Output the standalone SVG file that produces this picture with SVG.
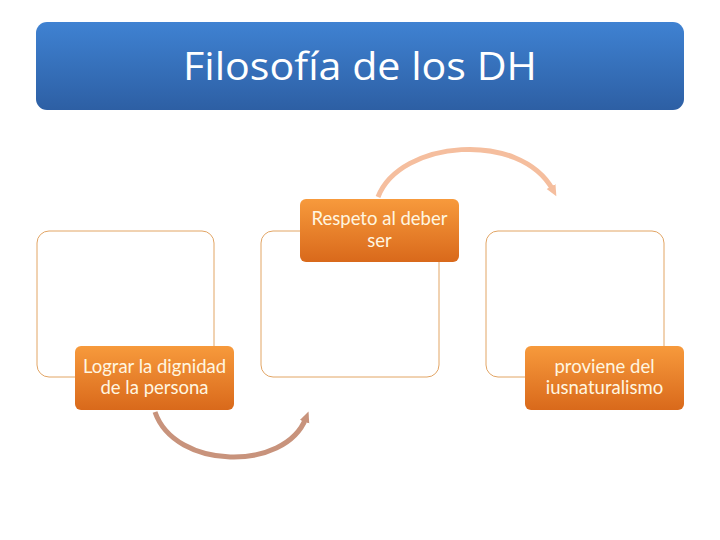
<svg xmlns="http://www.w3.org/2000/svg" width="720" height="540" viewBox="0 0 720 540">
<defs>
<linearGradient id="blue" x1="0" y1="0" x2="0" y2="1">
<stop offset="0" stop-color="#3F82D2"/>
<stop offset="1" stop-color="#2D5FA4"/>
</linearGradient>
<linearGradient id="orange" x1="0" y1="0" x2="0" y2="1">
<stop offset="0" stop-color="#F79A3C"/>
<stop offset="1" stop-color="#D9691B"/>
</linearGradient>
<marker id="ahTop" markerUnits="userSpaceOnUse" markerWidth="14" markerHeight="14" refX="4" refY="7" orient="auto">
<path d="M0,2 L11,7 L0,12 Z" fill="#F5BE9E"/>
</marker>
<marker id="ahBot" markerUnits="userSpaceOnUse" markerWidth="14" markerHeight="14" refX="4" refY="7" orient="auto">
<path d="M0,2 L11,7 L0,12 Z" fill="#C8937C"/>
</marker>
<style>
.outline{fill:#FFFFFF;stroke:#E2A565;stroke-width:1}
.ob{fill:url(#orange)}
.lbl{font-family:Lato,"Liberation Sans",sans-serif;font-size:18.5px;fill:#FFF6E0;text-anchor:middle}
.title{font-family:"Open Sans","Liberation Sans",sans-serif;font-size:38px;fill:#FFFFFF;text-anchor:middle}
</style>
</defs>
<rect width="720" height="540" fill="#FFFFFF"/>
<g id="title">
<rect x="36" y="22" width="648" height="88" rx="11" fill="url(#blue)"/>
<text class="title" x="360" y="80" textLength="354" lengthAdjust="spacingAndGlyphs">Filosofía de los DH</text>
</g>
<g id="box1"><rect class="outline" x="37" y="231" width="177" height="146" rx="12"/></g>
<g id="box2"><rect class="outline" x="261" y="231" width="178" height="146" rx="12"/></g>
<g id="box3"><rect class="outline" x="486" y="231" width="178" height="146" rx="12"/></g>
<g id="connectors" fill="none" stroke-width="5">
<path d="M378,197 C400,140 520,130 553,190" stroke="#F5BE9E" marker-end="url(#ahTop)"/>
<path d="M155,412 C175,470 285,472 306,418" stroke="#C8937C" marker-end="url(#ahBot)"/>
</g>
<g id="nodeA">
<rect class="ob" x="75" y="346" width="159" height="64" rx="6"/>
<text class="lbl" x="154.5" y="373">Lograr la dignidad</text>
<text class="lbl" x="154.5" y="394">de la persona</text>
</g>
<g id="nodeB">
<rect class="ob" x="300" y="199" width="159" height="63" rx="6"/>
<text class="lbl" x="379.5" y="225">Respeto al deber</text>
<text class="lbl" x="379.5" y="247">ser</text>
</g>
<g id="nodeC">
<rect class="ob" x="525" y="346" width="159" height="64" rx="6"/>
<text class="lbl" x="604.5" y="373">proviene del</text>
<text class="lbl" x="604.5" y="394">iusnaturalismo</text>
</g>
</svg>
